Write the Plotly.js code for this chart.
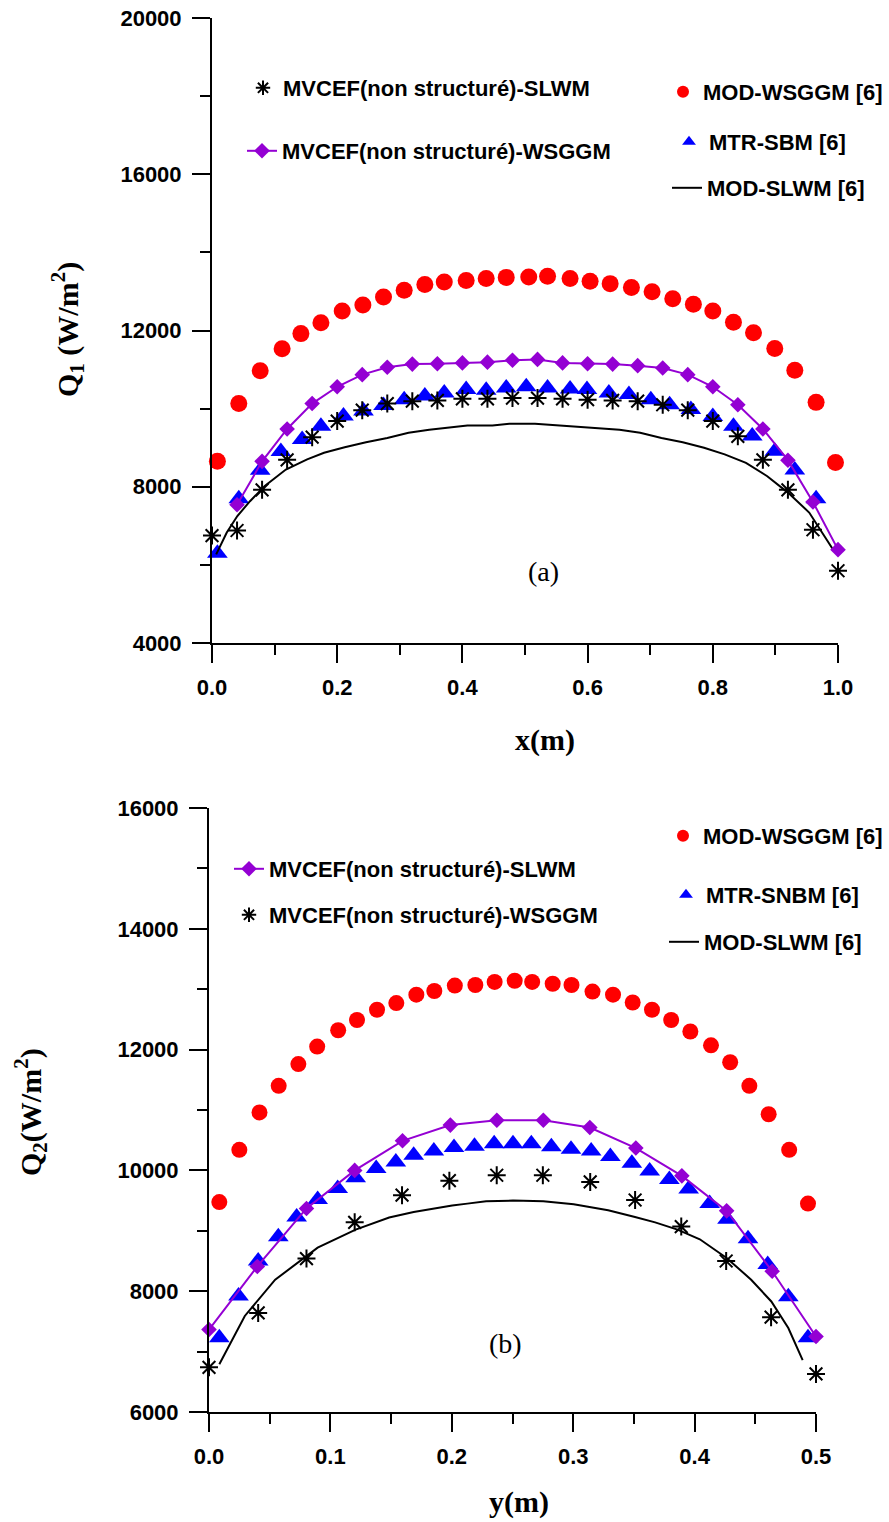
<!DOCTYPE html>
<html>
<head>
<meta charset="utf-8">
<script src="https://cdn.plot.ly/plotly-3.0.1.min.js"></script>
<style>html,body{margin:0;padding:0;background:#fff;}#chart{width:889px;height:1522px;}</style>
</head>
<body>
<div id="chart"></div>
<script>
// ---------- Panel (a): Q1 versus x ----------
const a_modWsggm_x = [0.0086,0.0428,0.077,0.112,0.142,0.174,0.208,0.241,0.274,0.307,0.340,0.371,0.406,0.438,0.470,0.506,0.536,0.572,0.604,0.636,0.670,0.703,0.736,0.769,0.800,0.833,0.865,0.899,0.931,0.965,0.996];
const a_modWsggm_y = [8650,10130,10970,11530,11920,12200,12500,12650,12860,13030,13180,13240,13280,13330,13360,13370,13390,13330,13260,13200,13100,12990,12810,12670,12500,12210,11940,11540,10980,10160,8620];

const a_mtrSbm_x = [0.0086,0.0428,0.077,0.110,0.144,0.174,0.210,0.242,0.274,0.307,0.340,0.371,0.406,0.438,0.470,0.502,0.536,0.572,0.599,0.634,0.666,0.701,0.731,0.765,0.800,0.833,0.863,0.899,0.931,0.965];
const a_mtrSbm_y = [6300,7690,8420,8900,9210,9550,9810,9940,10080,10230,10320,10400,10490,10470,10530,10560,10530,10500,10490,10400,10360,10230,10100,9980,9800,9550,9300,8910,8430,7690];

const a_modSlwm_x = [0.0067,0.0236,0.0405,0.0607,0.0843,0.118,0.152,0.179,0.212,0.246,0.280,0.314,0.347,0.381,0.408,0.448,0.475,0.516,0.550,0.583,0.617,0.651,0.684,0.718,0.752,0.786,0.819,0.853,0.887,0.920,0.954,0.974,0.991];
const a_modSlwm_y = [6270,6830,7250,7630,8020,8440,8700,8870,9010,9140,9250,9380,9460,9530,9570,9570,9610,9610,9570,9550,9510,9460,9380,9250,9140,9000,8830,8610,8270,7850,7340,6830,6420];

const a_mvcefWsggm_x = [0.04,0.08,0.12,0.16,0.20,0.24,0.28,0.32,0.36,0.40,0.44,0.48,0.52,0.56,0.60,0.64,0.68,0.72,0.76,0.80,0.84,0.88,0.92,0.96,1.00];
const a_mvcefWsggm_y = [7540,8650,9480,10130,10560,10870,11060,11140,11150,11170,11190,11240,11260,11170,11150,11140,11100,11040,10870,10560,10100,9480,8680,7610,6390];

const a_mvcefSlwm_x = [0.00,0.04,0.08,0.12,0.16,0.20,0.24,0.28,0.32,0.36,0.40,0.44,0.48,0.52,0.56,0.60,0.64,0.68,0.72,0.76,0.80,0.84,0.88,0.92,0.96,1.00];
const a_mvcefSlwm_y = [6750,6880,7920,8690,9270,9680,9960,10130,10190,10210,10250,10250,10270,10270,10250,10230,10210,10190,10100,9960,9680,9290,8690,7920,6900,5850];

// ---------- Panel (b): Q2 versus y ----------
const b_modWsggm_x = [0.0085,0.025,0.0416,0.0574,0.0736,0.0891,0.1064,0.1219,0.1384,0.1543,0.1708,0.1856,0.2025,0.2194,0.2353,0.2518,0.2662,0.2831,0.2986,0.3159,0.3328,0.3490,0.3649,0.3807,0.3965,0.4135,0.4293,0.4451,0.4610,0.4779,0.4934];
const b_modWsggm_y = [9475,10340,10960,11400,11760,12050,12320,12490,12660,12770,12910,12970,13060,13070,13120,13140,13120,13090,13070,12960,12910,12780,12660,12490,12300,12070,11790,11400,10930,10340,9450];

const b_mtrSnbm_x = [0.0085,0.0243,0.0405,0.0571,0.0722,0.0895,0.106,0.1208,0.1377,0.1539,0.1686,0.1852,0.2018,0.2187,0.2349,0.2504,0.2655,0.2820,0.2982,0.3148,0.3306,0.3483,0.3630,0.3792,0.3951,0.4124,0.4271,0.4440,0.4602,0.4772,0.4934];
const b_mtrSnbm_y = [7230,7920,8500,8900,9230,9520,9700,9880,10030,10140,10250,10320,10380,10400,10440,10440,10440,10390,10350,10320,10230,10120,9990,9850,9690,9450,9190,8870,8440,7910,7230];

const b_modSlwm_x = [0.0085,0.0295,0.0545,0.0895,0.1208,0.1484,0.1686,0.2003,0.2128,0.2283,0.2504,0.2754,0.3004,0.3288,0.3509,0.3675,0.3859,0.4043,0.4264,0.4466,0.4632,0.4772,0.4890];
const b_modSlwm_y = [6790,7590,8190,8720,9020,9220,9310,9420,9450,9490,9500,9490,9440,9340,9230,9140,9020,8860,8550,8190,7830,7390,6860];

const b_mvcefSlwm_x = [0.0,0.0398,0.0803,0.12,0.1594,0.1988,0.2371,0.2754,0.3137,0.3516,0.3895,0.4264,0.4639,0.5];
const b_mvcefSlwm_y = [7365,8410,9370,10000,10490,10750,10830,10830,10710,10370,9910,9330,8330,7250];

const b_mvcefWsggm_x = [0.0,0.0405,0.0803,0.12,0.159,0.198,0.237,0.275,0.314,0.351,0.389,0.426,0.463,0.5];
const b_mvcefWsggm_y = [6740,7640,8540,9140,9590,9830,9920,9920,9810,9510,9070,8500,7570,6630];

// ---------- styling / layout ----------
const W = 889, H = 1522;
const px = v => v / W;
const py = v => 1 - v / H;
const RED = 'rgb(255,0,0)', BLUE = 'rgb(0,0,255)', PURPLE = 'rgb(148,0,211)';
const SANS = 'Liberation Sans, Arial, sans-serif';
const SERIF = 'Liberation Serif, Times New Roman, serif';
const tickFont = {family: SANS, size: 22, color: '#000', weight: 'bold'};
const legFont = {family: SANS, size: 22, color: '#000', weight: 'bold'};

function leg(xpx, ypx, sizing) {
  return {x: px(xpx), y: py(ypx), xanchor: 'left', yanchor: 'middle', bgcolor: 'rgba(0,0,0,0)',
          borderwidth: 0, font: legFont, itemsizing: sizing || 'constant', itemwidth: 30};
}

const traces = [
  {x: a_modWsggm_x, y: a_modWsggm_y, xaxis: 'x', yaxis: 'y', mode: 'markers', name: 'MOD-WSGGM [6]',
   marker: {symbol: 'circle', size: 17, color: RED}, cliponaxis: false, legend: 'legend3'},
  {x: a_mtrSbm_x, y: a_mtrSbm_y, xaxis: 'x', yaxis: 'y', mode: 'markers', name: 'MTR-SBM [6]',
   marker: {symbol: 'triangle-up', size: 18, color: BLUE}, cliponaxis: false, legend: 'legend4'},
  {x: a_modSlwm_x, y: a_modSlwm_y, xaxis: 'x', yaxis: 'y', mode: 'lines', name: 'MOD-SLWM [6]',
   line: {color: '#000', width: 2}, cliponaxis: false, legend: 'legend5'},
  {x: a_mvcefWsggm_x, y: a_mvcefWsggm_y, xaxis: 'x', yaxis: 'y', mode: 'lines+markers', name: 'MVCEF(non structuré)-WSGGM',
   line: {color: PURPLE, width: 2}, marker: {symbol: 'diamond', size: 12, color: PURPLE}, cliponaxis: false, legend: 'legend2'},
  {x: a_mvcefSlwm_x, y: a_mvcefSlwm_y, xaxis: 'x', yaxis: 'y', mode: 'markers', name: 'MVCEF(non structuré)-SLWM',
   marker: {symbol: 'asterisk-open', size: 15, color: '#000', line: {color: '#000', width: 2}}, cliponaxis: false, legend: 'legend'},

  {x: b_modWsggm_x, y: b_modWsggm_y, xaxis: 'x2', yaxis: 'y2', mode: 'markers', name: 'MOD-WSGGM [6]',
   marker: {symbol: 'circle', size: 16, color: RED}, cliponaxis: false, legend: 'legend6'},
  {x: b_mtrSnbm_x, y: b_mtrSnbm_y, xaxis: 'x2', yaxis: 'y2', mode: 'markers', name: 'MTR-SNBM [6]',
   marker: {symbol: 'triangle-up', size: 18, color: BLUE}, cliponaxis: false, legend: 'legend9'},
  {x: b_modSlwm_x, y: b_modSlwm_y, xaxis: 'x2', yaxis: 'y2', mode: 'lines', name: 'MOD-SLWM [6]',
   line: {color: '#000', width: 2}, cliponaxis: false, legend: 'legend10'},
  {x: b_mvcefSlwm_x, y: b_mvcefSlwm_y, xaxis: 'x2', yaxis: 'y2', mode: 'lines+markers', name: 'MVCEF(non structuré)-SLWM',
   line: {color: PURPLE, width: 2}, marker: {symbol: 'diamond', size: 12, color: PURPLE}, cliponaxis: false, legend: 'legend7'},
  {x: b_mvcefWsggm_x, y: b_mvcefWsggm_y, xaxis: 'x2', yaxis: 'y2', mode: 'markers', name: 'MVCEF(non structuré)-WSGGM',
   marker: {symbol: 'asterisk-open', size: 15, color: '#000', line: {color: '#000', width: 2}}, cliponaxis: false, legend: 'legend8'}
];

function axis(extra) {
  return Object.assign({
    showline: true, linecolor: '#000', linewidth: 2, showgrid: false, zeroline: false,
    ticks: 'outside', ticklen: 18, tickwidth: 2, tickcolor: '#000', tickfont: tickFont,
    ticklabelstandoff: 6, fixedrange: true
  }, extra);
}
function minor(d) { return {dtick: d, ticks: 'outside', ticklen: 10, tickwidth: 2, tickcolor: '#000', showgrid: false}; }

const layout = {
  width: W, height: H, margin: {l: 0, r: 0, t: 0, b: 0},
  paper_bgcolor: '#fff', plot_bgcolor: 'rgba(0,0,0,0)',
  showlegend: true,
  xaxis: axis({domain: [px(212), px(838)], range: [0, 1], anchor: 'y', tick0: 0, dtick: 0.2, tickformat: '.1f', minor: minor(0.1)}),
  yaxis: axis({domain: [py(643), py(18)], range: [4000, 20000], anchor: 'x', tick0: 4000, dtick: 4000, tickformat: 'd', minor: minor(2000)}),
  xaxis2: axis({domain: [px(209), px(816)], range: [0, 0.5], anchor: 'y2', tick0: 0, dtick: 0.1, tickformat: '.1f', minor: minor(0.05)}),
  yaxis2: axis({domain: [py(1412), py(808)], range: [6000, 16000], anchor: 'x2', tick0: 6000, dtick: 2000, tickformat: 'd', minor: minor(1000)}),
  legend: leg(243, 88),
  legend2: leg(242, 151, 'trace'),
  legend3: leg(663, 92),
  legend4: leg(669, 142),
  legend5: leg(667, 188, 'trace'),
  legend6: leg(663, 836),
  legend7: leg(229, 869, 'trace'),
  legend8: leg(229, 915),
  legend9: leg(666, 895),
  legend10: leg(664, 942, 'trace'),
  annotations: [
    {text: '(a)', xref: 'x', yref: 'y', x: 0.529, y: 5840, showarrow: false, font: {family: SERIF, size: 28, color: '#000'}},
    {text: '(b)', xref: 'x2', yref: 'y2', x: 0.2446, y: 7140, showarrow: false, font: {family: SERIF, size: 28, color: '#000'}},
    {text: 'x(m)', xref: 'paper', yref: 'paper', x: px(545), y: py(740), showarrow: false, xanchor: 'center', yanchor: 'middle',
     font: {family: SERIF, size: 30, color: '#000', weight: 'bold'}},
    {text: 'y(m)', xref: 'paper', yref: 'paper', x: px(519), y: py(1502), showarrow: false, xanchor: 'center', yanchor: 'middle',
     font: {family: SERIF, size: 30, color: '#000', weight: 'bold'}},
    {text: 'Q<sub>1</sub> (W/m<sup>2</sup>)', xref: 'paper', yref: 'paper', x: px(68), y: py(330), textangle: -90, showarrow: false,
     xanchor: 'center', yanchor: 'middle', font: {family: SERIF, size: 30, color: '#000', weight: 'bold'}},
    {text: 'Q<sub>2</sub>(W/m<sup>2</sup>)', xref: 'paper', yref: 'paper', x: px(30), y: py(1112), textangle: -90, showarrow: false,
     xanchor: 'center', yanchor: 'middle', font: {family: SERIF, size: 30, color: '#000', weight: 'bold'}}
  ]
};

Plotly.newPlot('chart', traces, layout, {displayModeBar: false, staticPlot: true});
</script>
</body>
</html>
